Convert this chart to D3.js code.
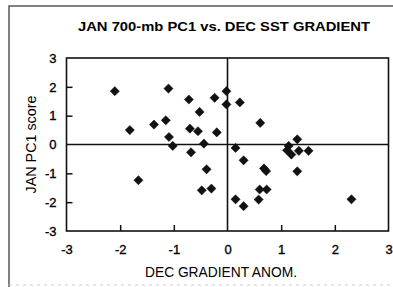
<!DOCTYPE html>
<html>
<head>
<meta charset="utf-8">
<script src="https://cdn.jsdelivr.net/npm/d3@7"></script>
<style>
  body { margin: 0; background: #fff; }
  text { font-family: "Liberation Sans", Arial, sans-serif; fill: #000; }
</style>
</head>
<body>
<div id="chart"></div>
<script>
// DEC gradient anomaly (x) vs JAN PC1 score (y)
const gradAnom = [-2.10, -1.82, -1.37, -1.15, -1.10, -1.09, -1.02, -0.72, -0.52, -0.24,
                  -0.02, -0.02, 0.23, 0.61, -0.70, -0.55, -0.20, -0.44, -0.68, 0.15,
                  0.30, -0.39, 0.68, 0.72, -0.48, -0.30, 0.60, 0.73, 0.58, 0.15,
                  0.30, -1.66, 1.30, 1.14, 1.11, 1.19, 1.33, 1.51, 1.30, 2.31]
const pc1Score = [1.85, 0.50, 0.69, 0.84, 1.94, 0.26, -0.05, 1.56, 1.13, 1.62,
                  1.85, 1.39, 1.46, 0.75, 0.55, 0.46, 0.42, 0.03, -0.27, -0.12,
                  -0.55, -0.86, -0.83, -0.92, -1.59, -1.53, -1.56, -1.56, -1.91, -1.90,
                  -2.14, -1.24, 0.18, -0.05, -0.20, -0.35, -0.22, -0.22, -0.93, -1.90]
const xTicks = [-3, -2, -1, 0, 1, 2, 3]
const yTicks = [-3, -2, -1, 0, 1, 2, 3]

;(function () {
  const W = 393, H = 287
  const margin = { top: 58, right: 4.5, bottom: 56, left: 66.5 }
  const width = W - margin.left - margin.right,
        height = H - margin.top - margin.bottom

  const x = d3.scaleLinear().domain([-3, 3]).range([0, width])
  const y = d3.scaleLinear().domain([-3, 3]).range([height, 0])

  const root = d3.select("#chart").append("svg")
    .attr("width", W)
    .attr("height", H)

  // outer chart border (only left/top/bottom show in the picture)
  root.append("path")
    .attr("d", "M9,287 L9,6 L393,6")
    .attr("fill", "none")
    .attr("stroke", "#555")
    .attr("stroke-width", 1.5)
  root.append("line")
    .attr("x1", 9).attr("x2", 393).attr("y1", 285).attr("y2", 285)
    .attr("stroke", "#ccc").attr("stroke-width", 1)
    .attr("stroke-dasharray", "3,4")

  root.append("text")
    .attr("x", 224)
    .attr("y", 31)
    .attr("text-anchor", "middle")
    .attr("font-size", "13px")
    .attr("font-weight", "bold")
    .attr("textLength", 292)
    .attr("lengthAdjust", "spacingAndGlyphs")
    .text("JAN 700-mb PC1 vs. DEC SST GRADIENT")

  const g = root.append("g")
    .attr("transform", "translate(" + margin.left + "," + margin.top + ")")

  // plain hyphen for negatives, like the original
  const fmt = d => String(d)

  // x axis: ticks point inward
  const xAxis = g.append("g")
    .attr("transform", "translate(0," + height + ")")
    .call(d3.axisBottom(x).tickValues(xTicks).tickSize(-6).tickPadding(14).tickFormat(fmt))
  xAxis.select(".domain").remove()
  xAxis.selectAll("line").attr("stroke", "#111").attr("stroke-width", 1.5)
    .filter(d => d === 0 || Math.abs(d) === 3).remove()
  xAxis.selectAll("text").attr("font-size", "13px").attr("fill", "#000")
    .attr("stroke", "#000").attr("stroke-width", 0.35)

  const yAxis = g.append("g")
    .call(d3.axisLeft(y).tickValues(yTicks).tickSize(-6).tickPadding(10).tickFormat(fmt))
  yAxis.select(".domain").remove()
  yAxis.selectAll("line").attr("stroke", "#111").attr("stroke-width", 1.5)
    .filter(d => d === 0 || Math.abs(d) === 3).remove()
  yAxis.selectAll("text").attr("font-size", "13px").attr("fill", "#000")
    .attr("stroke", "#000").attr("stroke-width", 0.35)

  // plot frame
  g.append("rect")
    .attr("width", width)
    .attr("height", height)
    .attr("fill", "none")
    .attr("stroke", "#111")
    .attr("stroke-width", 1.6)

  // zero lines
  g.append("line")
    .attr("x1", 0).attr("x2", width)
    .attr("y1", y(0)).attr("y2", y(0))
    .attr("stroke", "#111").attr("stroke-width", 1.6)
  g.append("line")
    .attr("x1", x(0)).attr("x2", x(0))
    .attr("y1", 0).attr("y2", height)
    .attr("stroke", "#111").attr("stroke-width", 1.6)

  const data = gradAnom.map((v, i) => ({ x: v, y: pc1Score[i] }))
  const r = 4.6
  g.selectAll(".pt")
    .data(data)
    .enter().append("path")
    .attr("class", "pt")
    .attr("transform", d => "translate(" + x(d.x) + "," + y(d.y) + ")")
    .attr("d", "M0," + -r + "L" + r + ",0L0," + r + "L" + -r + ",0Z")
    .attr("fill", "#111")
    .attr("stroke", "#111")
    .attr("stroke-width", 0.5)

  // axis titles
  root.append("text")
    .attr("transform", "translate(36," + (margin.top + y(0)) + ") rotate(-90)")
    .attr("text-anchor", "middle")
    .attr("font-size", "14px")
    .attr("textLength", 98)
    .attr("lengthAdjust", "spacingAndGlyphs")
    .text("JAN PC1 score")

  root.append("text")
    .attr("x", 221)
    .attr("y", 277)
    .attr("text-anchor", "middle")
    .attr("font-size", "14px")
    .attr("textLength", 152)
    .attr("lengthAdjust", "spacingAndGlyphs")
    .text("DEC GRADIENT ANOM.")
})()
</script>
</body>
</html>
